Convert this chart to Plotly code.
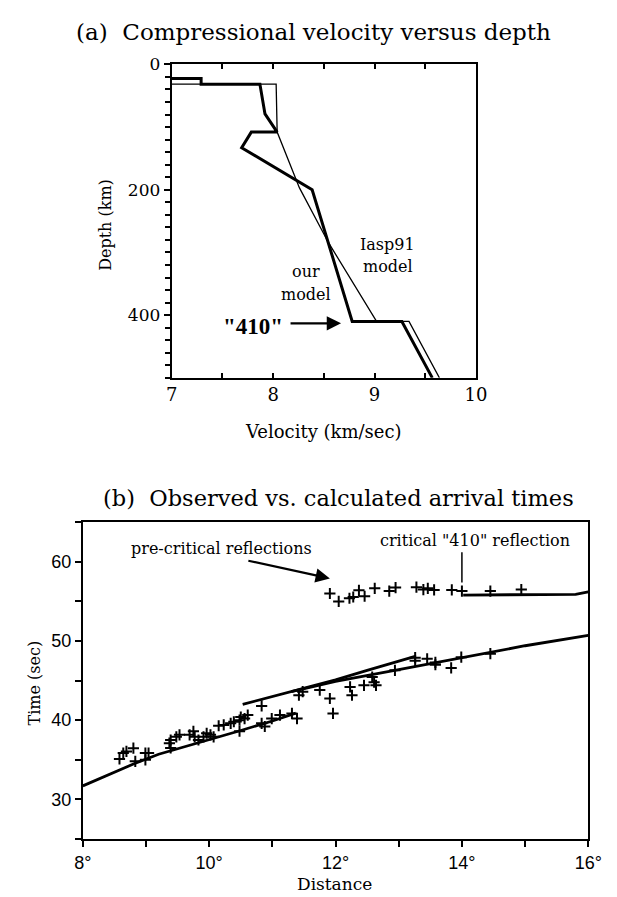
import plotly.graph_objects as go

# ---------------- Panel (a) data: velocity (km/s) vs depth (km)
our_v = [6.5, 7.29, 7.29, 7.87, 7.92, 8.04, 7.785, 7.69, 8.385, 8.78, 9.27, 9.57]
our_d = [22.6, 22.6, 31.5, 31.5, 79, 108, 108, 133, 200, 410, 410, 500]
iasp_v = [6.5, 8.03, 8.04, 8.26, 8.545, 9.02, 9.34, 9.64]
iasp_d = [31.5, 31.5, 108, 197, 284, 410, 410, 500]

# ---------------- Panel (b) data: distance (deg) vs time (s)
branch_c_x = [8.0, 8.4, 8.81, 9.2, 9.6, 10.0, 10.5, 11.0, 11.37]
branch_c_y = [31.7, 33.1, 34.5, 35.7, 36.6, 37.5, 38.7, 39.9, 40.9]
branch_a_x = [10.53, 11.3, 12.0, 12.5, 13.26]
branch_a_y = [42.0, 43.6, 45.1, 46.3, 48.05]
branch_b_x = [11.3, 12.0, 13.0, 14.0, 15.0, 16.0]
branch_b_y = [43.6, 44.9, 46.4, 47.9, 49.4, 50.7]
refl_x = [14.02, 15.0, 15.8, 16.0]
refl_y = [55.8, 55.85, 55.9, 56.2]

obs_x = [8.58, 8.64, 8.69, 8.80, 8.83, 8.99, 9.04, 8.99, 9.37, 9.39, 9.48, 9.53, 9.39,
         9.69, 9.75, 9.77, 9.83, 9.91, 9.96, 10.02, 10.07, 10.15, 10.23, 10.34, 10.39,
         10.48, 10.50, 10.56, 10.61, 10.48, 10.83, 10.83, 10.88, 10.99, 11.12, 11.31,
         11.39, 11.42, 11.48, 11.75, 11.91, 11.96, 12.23, 12.26, 12.45, 12.58, 12.61,
         12.64, 12.94, 13.26, 13.26, 13.45, 13.58, 13.58, 13.83, 13.99, 14.45,
         11.91, 12.05, 12.22, 12.28, 12.37, 12.46, 12.62, 12.85, 12.95, 13.28, 13.39,
         13.46, 13.56, 13.84, 14.0, 14.45, 14.94]
obs_y = [35.1, 35.85, 36.06, 36.47, 34.8, 35.85, 35.85, 35.0, 37.1, 37.5, 37.9, 38.15, 36.5,
         38.15, 38.6, 37.9, 37.5, 37.9, 38.35, 38.15, 37.9, 39.3, 39.4, 39.6, 39.8,
         40.0, 40.4, 40.2, 40.65, 38.6, 41.8, 39.6, 39.2, 40.2, 40.65, 40.86,
         40.2, 43.15, 43.6, 43.8, 42.74, 40.86, 44.2, 43.15, 44.4, 45.45, 44.8,
         44.4, 46.3, 47.5, 47.9, 47.75, 47.3, 47.0, 46.6, 47.96, 48.4,
         56.0, 55.0, 55.4, 55.56, 56.4, 55.65, 56.65, 56.3, 56.75, 56.8, 56.5,
         56.65, 56.45, 56.45, 56.3, 56.3, 56.5]

vel_ticks = [7, 8, 9, 10]
depth_ticks = [0, 200, 400]
dist_ticks = [8, 10, 12, 14, 16]
dist_tick_labels = ["8°", "10°", "12°", "14°", "16°"]
time_ticks = [30, 40, 50, 60]

crit_mark_x = [14.0, 14.0]
crit_mark_y = [57.4, 61.2]

W, H = 617, 897
SERIF = "DejaVu Serif"
SANS = "Liberation Sans"


def px(x):
    return x / W


def py(y):
    return 1 - y / H


fig = go.Figure()

fig.add_trace(go.Scatter(x=iasp_v, y=iasp_d, mode="lines",
                         line=dict(color="black", width=1.3), xaxis="x", yaxis="y",
                         showlegend=False, hoverinfo="skip"))
fig.add_trace(go.Scatter(x=our_v, y=our_d, mode="lines",
                         line=dict(color="black", width=3), xaxis="x", yaxis="y",
                         showlegend=False, hoverinfo="skip"))

for bx, by in [(branch_c_x, branch_c_y), (branch_a_x, branch_a_y),
               (branch_b_x, branch_b_y), (refl_x, refl_y)]:
    fig.add_trace(go.Scatter(x=bx, y=by, mode="lines",
                             line=dict(color="black", width=2.8), xaxis="x2", yaxis="y2",
                             showlegend=False, hoverinfo="skip"))
fig.add_trace(go.Scatter(x=obs_x, y=obs_y, mode="markers",
                         marker=dict(symbol="cross-thin", size=8, color="black",
                                     line=dict(color="black", width=2)),
                         xaxis="x2", yaxis="y2", showlegend=False, hoverinfo="skip"))
fig.add_trace(go.Scatter(x=crit_mark_x, y=crit_mark_y, mode="lines",
                         line=dict(color="black", width=1.5), xaxis="x2", yaxis="y2",
                         showlegend=False, hoverinfo="skip"))

axis_common = dict(showline=True, linecolor="black", linewidth=2,
                   showgrid=False, zeroline=False, tickcolor="black")

fig.update_layout(
    width=W, height=H, autosize=False,
    margin=dict(l=0, r=0, t=0, b=0),
    paper_bgcolor="white", plot_bgcolor="white",
    xaxis=dict(domain=[px(169), px(485)], range=[7, 10], anchor="y", mirror="allticks",
               tickvals=vel_ticks, ticks="inside", ticklen=5, tickwidth=2,
               minor=dict(dtick=0.5, ticks="inside", ticklen=5, tickwidth=2, tickcolor="black"),
               tickfont=dict(family=SERIF, size=18, color="black"), **axis_common),
    yaxis=dict(domain=[py(372), py(55)], range=[500, 0], anchor="x", mirror=True,
               tickvals=depth_ticks, ticks="outside", ticklen=6, tickwidth=2,
               minor=dict(dtick=20, ticks="outside", ticklen=5, tickwidth=2, tickcolor="black"),
               tickfont=dict(family=SERIF, size=17, color="black"), **axis_common),
    xaxis2=dict(domain=[px(76.7), px(601.7)], range=[8, 16], anchor="y2", mirror=True,
                tickvals=dist_ticks, ticktext=dist_tick_labels, ticks="outside", ticklen=6,
                tickwidth=2,
                minor=dict(dtick=1, ticks="outside", ticklen=6, tickwidth=2, tickcolor="black"),
                tickfont=dict(family=SANS, size=18, color="black"), **axis_common),
    yaxis2=dict(domain=[py(838.3), py(518)], range=[25, 65], anchor="x2", mirror=True,
                tickvals=time_ticks, ticks="outside", ticklen=6, tickwidth=2,
                minor=dict(dtick=5, ticks="outside", ticklen=6, tickwidth=2, tickcolor="black"),
                tickfont=dict(family=SANS, size=18, color="black"), **axis_common),
)

ann = []


def text(x, y, s, size, xref="paper", yref="paper", angle=0, bold=False, family=SERIF):
    ann.append(dict(x=x, y=y, xref=xref, yref=yref,
                    text=("<b>%s</b>" % s) if bold else s, showarrow=False,
                    font=dict(family=family, size=size, color="black"), textangle=angle,
                    xanchor="center", yanchor="middle"))


text(px(316), py(22), "(a)  Compressional velocity versus depth", 23)
text(px(342), py(494), "(b)  Observed vs. calculated arrival times", 22.5)
text(px(100), py(217), "Depth (km)", 16, angle=-90)
text(px(327), py(426), "Velocity (km/sec)", 18)
text(px(26), py(681), "Time (sec)", 16, angle=-90)
text(px(338), py(884), "Distance", 17)

text(9.13, 287, "Iasp91", 16, xref="x", yref="y")
text(9.13, 323, "model", 16, xref="x", yref="y")
text(8.32, 331, "our", 16, xref="x", yref="y")
text(8.32, 367, "model", 16, xref="x", yref="y")
text(7.80, 418, "\"410\"", 23, xref="x", yref="y", bold=True, family="Liberation Serif")

text(10.2, 61.7, "pre-critical reflections", 16, xref="x2", yref="y2")
text(14.2, 62.7, "critical \"410\" reflection", 16, xref="x2", yref="y2")

# arrows
ann.append(dict(x=8.67, y=413, xref="x", yref="y", ax=-52, ay=0,
                showarrow=True, arrowhead=2, arrowsize=1.3, arrowwidth=2.2, arrowcolor="black",
                text=""))
ann.append(dict(x=11.91, y=57.9, xref="x2", yref="y2", ax=-83, ay=-18,
                showarrow=True, arrowhead=2, arrowsize=1.3, arrowwidth=2.2, arrowcolor="black",
                text=""))
fig.update_layout(annotations=ann)

# remove the default page margin so the 617x897 figure fills the window exactly
fig.write_html("out.html", config={"displayModeBar": False},
               post_script="document.body.style.margin='0';document.body.style.overflow='hidden';")
